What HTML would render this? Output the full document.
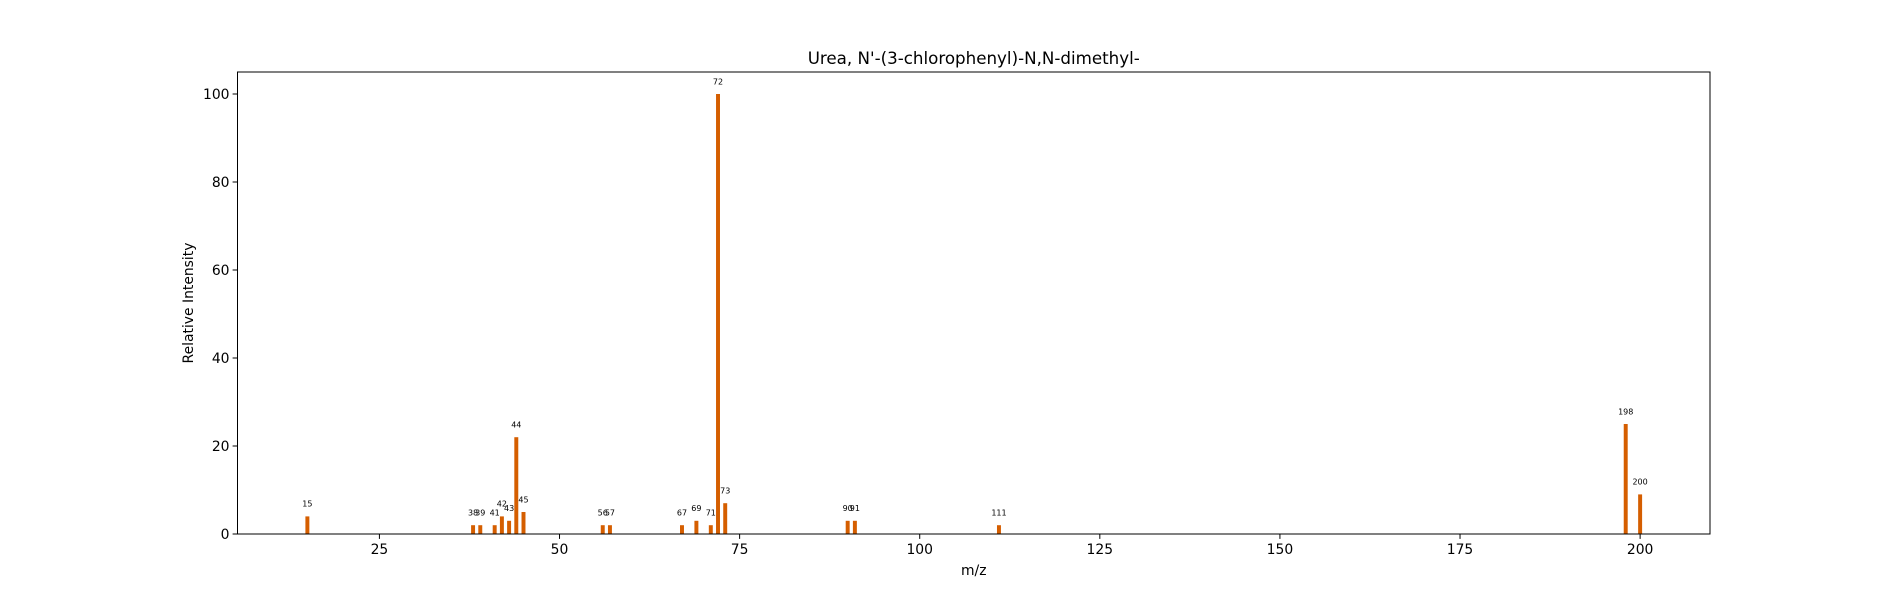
<!DOCTYPE html>
<html><head><meta charset="utf-8"><style>
body{margin:0;background:#fff;font-family:"Liberation Sans","DejaVu Sans",sans-serif}
svg text{font-family:"DejaVu Sans","Liberation Sans",sans-serif}
</style></head><body>
<svg id="chart" width="1900" height="600" xmlns="http://www.w3.org/2000/svg">
<rect width="1900" height="600" fill="#fff"/>
<text x="973.75" y="64" font-size="16.7" text-anchor="middle">Urea, N'-(3-chlorophenyl)-N,N-dimethyl-</text>
<g id="bars"></g>
<g id="xticks"></g>
<g id="yticks"></g>
<rect x="237.5" y="72" width="1472.5" height="462" fill="none" stroke="#000" stroke-width="1"/>
<text x="973.75" y="575" font-size="13.9" text-anchor="middle">m/z</text>
<text transform="translate(193,303) rotate(-90)" font-size="13.9" text-anchor="middle">Relative Intensity</text>
</svg>
<script>
const mzValues=[15,38,39,41,42,43,44,45,56,57,67,69,71,72,73,90,91,111,198,200];
const intensities=[4,2,2,2,4,3,22,5,2,2,2,3,2,100,7,3,3,2,25,9];
const xTickValues=[25,50,75,100,125,150,175,200];
const yTickValues=[0,20,40,60,80,100];
const L=237.5,R=1710,T=72,B=534,xMin=5.3,xMax=209.7,yMax=105,barW=0.55;
const xs=v=>L+(v-xMin)/(xMax-xMin)*(R-L);
const ys=v=>B-v/yMax*(B-T);
const NS="http://www.w3.org/2000/svg";
const bars=document.getElementById('bars');
mzValues.forEach((m,i)=>{
 const h=intensities[i];
 const r=document.createElementNS(NS,'rect');
 r.setAttribute('x',xs(m-barW/2));r.setAttribute('width',xs(m+barW/2)-xs(m-barW/2));
 r.setAttribute('y',ys(h));r.setAttribute('height',B-ys(h));r.setAttribute('fill','#d55e00');
 
 
 bars.appendChild(r);
 const t=document.createElementNS(NS,'text');
 t.setAttribute('x',xs(m));t.setAttribute('y',ys(h+2.2));t.setAttribute('font-size','8');t.setAttribute('text-anchor','middle');
 t.textContent=m;
 
 
 bars.appendChild(t);
});
const xt=document.getElementById('xticks');
xTickValues.forEach(v=>{
 const l=document.createElementNS(NS,'line');
 l.setAttribute('x1',xs(v));l.setAttribute('x2',xs(v));l.setAttribute('y1',B);l.setAttribute('y2',B+4.9);l.setAttribute('stroke','#000');
 
 
 xt.appendChild(l);
 const t=document.createElementNS(NS,'text');
 t.setAttribute('x',xs(v));t.setAttribute('y',B+20);t.setAttribute('font-size','13.9');t.setAttribute('text-anchor','middle');
 t.textContent=v;
 
 
 xt.appendChild(t);
});
const yt=document.getElementById('yticks');
yTickValues.forEach(v=>{
 const l=document.createElementNS(NS,'line');
 l.setAttribute('x1',L-4.9);l.setAttribute('x2',L);l.setAttribute('y1',ys(v));l.setAttribute('y2',ys(v));l.setAttribute('stroke','#000');
 
 
 yt.appendChild(l);
 const t=document.createElementNS(NS,'text');
 t.setAttribute('x',L-8);t.setAttribute('y',ys(v)+5);t.setAttribute('font-size','13.9');t.setAttribute('text-anchor','end');
 t.textContent=v;
 
 
 yt.appendChild(t);
});
</script>
</body></html>
